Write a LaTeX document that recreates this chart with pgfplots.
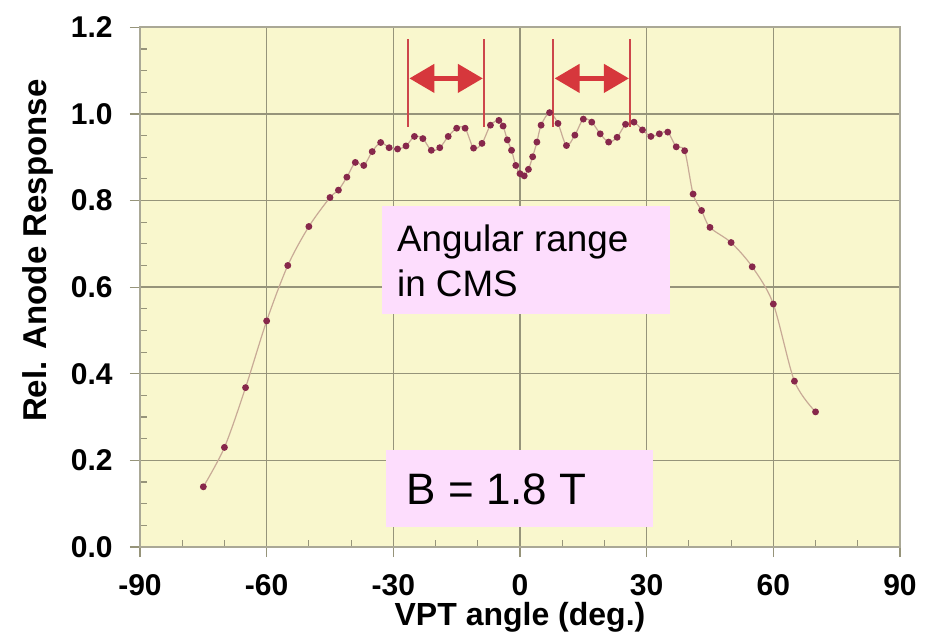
\documentclass[border=0pt]{standalone}
\usepackage{pgfplots}
\pgfplotsset{compat=1.18}
\usepackage{fontspec}
\setmainfont{Liberation Sans}
\usetikzlibrary{arrows.meta}

\definecolor{plotbg}{RGB}{249,247,205}
\definecolor{gridcol}{RGB}{150,148,122}
\definecolor{framecol}{RGB}{170,168,150}
\definecolor{curvecol}{RGB}{200,170,150}
\definecolor{markcol}{RGB}{135,40,75}
\definecolor{boxpink}{RGB}{253,221,253}
\definecolor{arrowred}{RGB}{214,55,60}
\definecolor{barred}{RGB}{205,70,75}

% relative anode response vs. VPT angle
\pgfplotstableread{
angle resp
-75 0.139
-70 0.230
-65 0.368
-60 0.522
-55 0.650
-50 0.740
-45 0.807
-43 0.824
-41 0.854
-39 0.888
-37 0.881
-35 0.913
-33 0.934
-31 0.922
-29 0.919
-27 0.926
-25 0.948
-23 0.943
-21 0.916
-19 0.922
-17 0.948
-15 0.967
-13 0.967
-11 0.921
-9 0.932
-7 0.974
-5 0.985
-4 0.972
-3 0.940
-2 0.916
-1 0.881
0 0.862
1 0.857
2 0.872
3 0.901
4 0.935
5 0.974
7 1.003
9 0.978
11 0.927
13 0.951
15 0.988
17 0.981
19 0.954
21 0.935
23 0.946
25 0.976
27 0.981
29 0.963
31 0.948
33 0.954
35 0.958
37 0.924
39 0.915
41 0.815
43 0.777
45 0.738
50 0.703
55 0.647
60 0.561
65 0.383
70 0.312
}\response

\begin{document}
\begin{tikzpicture}
\path[use as bounding box] (-70pt,-42.5pt) rectangle (400.5pt,273.5pt);
\begin{axis}[
  scale only axis, width=380pt, height=259.85pt,
  xmin=-90, xmax=90, ymin=0, ymax=1.2,
  xtick={-90,-60,-30,0,30,60,90},
  ytick={0,0.2,0.4,0.6,0.8,1.0,1.2},
  minor x tick num=2, minor y tick num=3,
  xtick pos=bottom, ytick pos=left,
  grid=major,
  major grid style={gridcol, line width=0.7pt},
  axis background/.style={fill=plotbg},
  axis line style={framecol, line width=0.8pt},
  tick align=outside, major tick length=5pt, minor tick length=3.5pt,
  tick style={gridcol, line width=0.6pt},
  minor x tick style={yshift=3.5pt},
  minor y tick style={xshift=3.5pt},
  /pgf/number format/assume math mode=true,
  tick label style={font=\fontsize{15}{18}\selectfont\bfseries},
  xticklabel style={anchor=base, inner sep=0pt, yshift=-19pt},
  yticklabel style={anchor=east, inner sep=0pt, xshift=-8.5pt,
    /pgf/number format/.cd, fixed, fixed zerofill, precision=1},
  xlabel={VPT angle (deg.)},
  xlabel style={font=\fontsize{16}{19}\selectfont\bfseries,
    at={(axis description cs:0.5,-0.152)}, anchor=base},
  ylabel={Rel. Anode Response},
  ylabel style={font=\fontsize{16.5}{19}\selectfont\bfseries,
    at={(axis description cs:-0.1224,0.570)}, anchor=base},
]
\addplot[curvecol, line width=0.6pt, smooth, tension=0.5,
  mark=*, mark size=1.4pt,
  mark options={solid, draw=markcol, fill=markcol}]
  table[x=angle, y=resp] {\response};

% angular range markers
\draw[barred, line width=1pt] (axis cs:-26.5,0.970) -- (axis cs:-26.5,1.173);
\draw[barred, line width=1pt] (axis cs:-8.5,0.970) -- (axis cs:-8.5,1.173);
\draw[barred, line width=1pt] (axis cs:7.9,0.970) -- (axis cs:7.9,1.173);
\draw[barred, line width=1pt] (axis cs:26.1,0.970) -- (axis cs:26.1,1.173);
\draw[arrowred, line width=2.2pt,
  {Triangle[length=12.5pt,width=14pt]}-{Triangle[length=12.5pt,width=14pt]}]
  (axis cs:-26.2,1.082) -- (axis cs:-8.8,1.082);
\draw[arrowred, line width=2.2pt,
  {Triangle[length=12.5pt,width=14pt]}-{Triangle[length=12.5pt,width=14pt]}]
  (axis cs:8.2,1.082) -- (axis cs:25.8,1.082);

% text boxes
\fill[boxpink] (axis cs:-32.8,0.538) rectangle (axis cs:35.6,0.7875);
\node[anchor=base west, inner sep=0pt, font=\fontsize{18.4}{22}\selectfont]
  at (axis cs:-29.2,0.682) {Angular range};
\node[anchor=base west, inner sep=0pt, font=\fontsize{18.4}{22}\selectfont]
  at (axis cs:-29.2,0.578) {in CMS};
\fill[boxpink] (axis cs:-31.8,0.047) rectangle (axis cs:31.5,0.224);
\node[anchor=base west, inner sep=0pt, font=\fontsize{22}{26}\selectfont]
  at (axis cs:-26.9,0.097) {B = 1.8 T};
\end{axis}
\end{tikzpicture}
\end{document}
